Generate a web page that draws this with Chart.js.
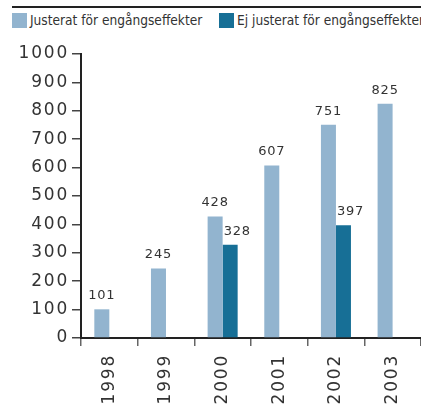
<!DOCTYPE html>
<html>
<head>
<meta charset="utf-8">
<script src="https://cdn.jsdelivr.net/npm/chart.js@4/dist/chart.umd.min.js"></script>
<style>
  body { margin: 0; width: 421px; height: 408px; overflow: hidden; background: #fff; position: relative; font-family: "DejaVu Sans Condensed", "DejaVu Sans", sans-serif; }
  #topLine { position: absolute; left: 12px; top: 6px; width: 409px; height: 2px; background: #222; }
  .leg { position: absolute; top: 13px; height: 15px; line-height: 15px; font-size: 13.6px; color: #333; white-space: nowrap; }
  .leg span { display: inline-block; width: 15px; height: 15px; vertical-align: top; margin-right: 3px; }
  #wrap { position: absolute; left: 0; top: 0; width: 421px; height: 408px; }
</style>
</head>
<body>
<div id="topLine"></div>
<div class="leg" style="left:12px"><span style="background:#92b4cf"></span>Justerat för engångseffekter</div>
<div class="leg" style="left:219px"><span style="background:#176f96"></span>Ej justerat för engångseffekter</div>
<div id="wrap"><canvas id="grafico"></canvas></div>
<script>
    let ar = ["1998", "1999", "2000", "2001", "2002", "2003"];
    let justerat = [101, 245, 428, 607, 751, 825];
    let ejJusterat = [null, null, 328, null, 397, null];
    let serieNamn = ["Justerat för engångseffekter", "Ej justerat för engångseffekter"];

    let ljus = "#92b4cf";
    let mork = "#176f96";
    let textFarg = "#333";

    // siffror ovanför staplarna
    let etiketter = {
      id: "etiketter",
      beforeDraw(chart) {
        chart.ctx.letterSpacing = "1.8px";
      },
      afterDatasetsDraw(chart) {
        let ctx = chart.ctx;
        ctx.save();
        ctx.letterSpacing = "0.8px";
        ctx.font = "13px 'DejaVu Sans'";
        ctx.fillStyle = textFarg;
        ctx.textBaseline = "bottom";
        chart.data.datasets.forEach((ds, i) => {
          let meta = chart.getDatasetMeta(i);
          meta.data.forEach((el, j) => {
            let v = ds.data[j];
            if (v == null) return;
            if (i === 0) {
              ctx.textAlign = "center";
              ctx.fillText(v, el.x, el.y - 7);
            } else {
              ctx.textAlign = "left";
              ctx.fillText(v, el.x - el.width / 2 + 1, el.y - 7);
            }
          });
        });
        ctx.restore();
      }
    };

    let grafico = new Chart(document.getElementById("grafico"), {
      type: "bar",
      data: {
        labels: ar,
        datasets: [
          { label: serieNamn[0], data: justerat, backgroundColor: ljus, barPercentage: 1, categoryPercentage: 0.53 },
          { label: serieNamn[1], data: ejJusterat, backgroundColor: mork, barPercentage: 1, categoryPercentage: 0.53 }
        ]
      },
      options: {
        responsive: true,
        maintainAspectRatio: false,
        animation: false,
        layout: { autoPadding: false, padding: { top: 54, left: 0, right: 0, bottom: 0 } },
        plugins: { legend: { display: false }, tooltip: { enabled: false } },
        scales: {
          x: {
            afterFit(s) { s.height = 70; },
            grid: { drawOnChartArea: false, offset: true, tickLength: 8, color: "#666", lineWidth: 1.5 },
            border: { color: "#222", width: 2 },
            ticks: { minRotation: 90, maxRotation: 90, padding: 8, color: textFarg, font: { family: "DejaVu Sans", size: 17 } }
          },
          y: {
            min: 0,
            max: 1000,
            afterFit(s) { s.width = 81; },
            grid: { drawOnChartArea: false, tickLength: 9, color: "#444", lineWidth: 1.5 },
            border: { color: "#222", width: 2 },
            ticks: { stepSize: 100, padding: 3, color: textFarg, font: { family: "DejaVu Sans", size: 17 }, callback: v => String(v) }
          }
        }
      },
      plugins: [etiketter]
    });
</script>
</body>
</html>
